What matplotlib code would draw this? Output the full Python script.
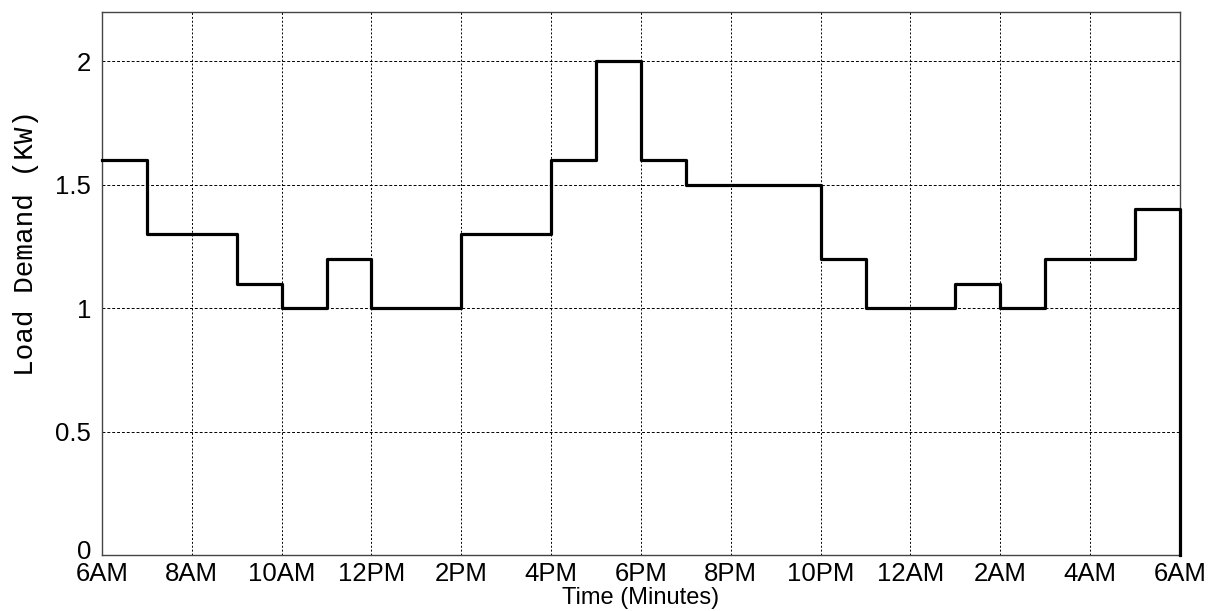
import numpy as np
import matplotlib.pyplot as plt
from matplotlib.transforms import ScaledTranslation

# hourly load demand (KW), 6AM -> 6AM next day
hour_labels = ['6AM', '8AM', '10AM', '12PM', '2PM', '4PM', '6PM',
               '8PM', '10PM', '12AM', '2AM', '4AM', '6AM']
load = [1.6, 1.3, 1.3, 1.1, 1.0, 1.2, 1.0, 1.0,
        1.3, 1.3, 1.6, 2.0, 1.6, 1.5, 1.5, 1.5,
        1.2, 1.0, 1.0, 1.1, 1.0, 1.2, 1.2, 1.4]

minutes = np.arange(len(load) + 1) * 60
xs = np.append(minutes, minutes[-1])
ys = np.array(load + [load[-1], 0.0])

fig = plt.figure(figsize=(12.2, 6.11), dpi=100)
ax = fig.add_axes([0.0836, 0.0917, 0.8836, 0.8886])

ax.step(xs, ys, where='post', color='black', linewidth=2.3, clip_on=False, zorder=3)

ax.set_xlim(0, 1440)
ax.set_ylim(0, 2.2)
ax.set_xticks(np.arange(0, 1441, 120))
ax.set_xticklabels(hour_labels)
ax.set_yticks([0, 0.5, 1, 1.5, 2])
ax.set_yticklabels(['0', '0.5', '1', '1.5', '2'])

ax.xaxis.grid(True, color='black', linestyle=(0, (2, 2)), linewidth=0.7)
ax.yaxis.grid(True, color='black', linestyle=(0, (3, 2)), linewidth=0.7)

ax.tick_params(length=0, labelsize=18.5)
ax.tick_params(axis='x', pad=5)
ax.tick_params(axis='y', pad=8)
for lab in ax.get_xticklabels() + ax.get_yticklabels():
    lab.set_family('Liberation Sans')

# lift the "0" label a little so it clears the 6AM label, as in the original
zero = ax.get_yticklabels()[0]
zero.set_transform(zero.get_transform() + ScaledTranslation(0, 4 / 72, fig.dpi_scale_trans))

for sp in ax.spines.values():
    sp.set_color('#444444')
    sp.set_linewidth(1.0)

ax.set_xlabel('Time (Minutes)', fontsize=17, family='Liberation Sans', labelpad=1)
ax.set_ylabel('Load Demand (KW)', fontsize=20, family='Liberation Mono')
ax.yaxis.set_label_coords(-0.058, 0.575)

fig.savefig('out.png', dpi=100)
